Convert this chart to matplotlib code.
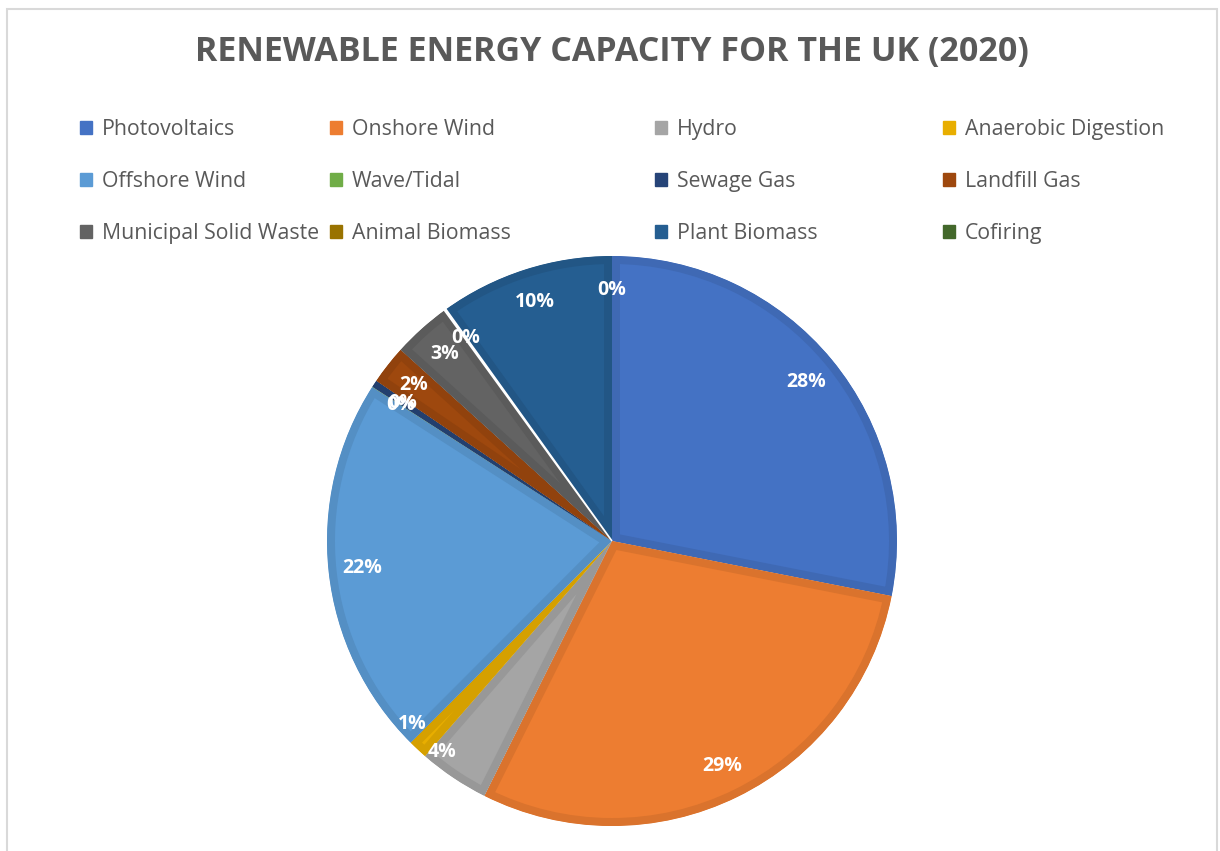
import matplotlib
matplotlib.use("Agg")
import matplotlib.pyplot as plt
from matplotlib.patches import Rectangle, Patch
import matplotlib.colors as mcolors
import numpy as np

plt.rcParams['font.family'] = ['Open Sans', 'DejaVu Sans']

# ---- data (share of UK renewable capacity, %) ----
categories = ["Photovoltaics", "Onshore Wind", "Hydro", "Anaerobic Digestion",
              "Offshore Wind", "Wave/Tidal", "Sewage Gas", "Landfill Gas",
              "Municipal Solid Waste", "Animal Biomass", "Plant Biomass", "Cofiring"]
values = [28.1, 29.3, 4.0, 1.1, 21.6, 0.02, 0.4, 2.2, 3.3, 0.1, 9.9, 0.0]
title = "RENEWABLE ENERGY CAPACITY FOR THE UK (2020)"

colors = ["#4472C4", "#ED7D31", "#A5A5A5", "#E8AE00", "#5B9BD5", "#70AD47",
          "#264478", "#9E480E", "#636363", "#997300", "#255E91", "#43682B"]

W, H = 1220, 851
fig = plt.figure(figsize=(W / 100, H / 100), dpi=100)

# frame
fig.patches.append(Rectangle((7 / W, -0.05), (1217 - 7) / W, (H - 9) / H + 0.05,
                             transform=fig.transFigure, fill=False,
                             edgecolor="#D9D9D9", linewidth=1.5))

cx, cy, R = 612, 541, 285
ax = fig.add_axes([(cx - R) / W, (H - cy - R) / H, 2 * R / W, 2 * R / H])

wedges, _ = ax.pie(values, colors=colors, startangle=90, counterclock=False,
                   radius=1.0, wedgeprops=dict(linewidth=0))

def darker(c, f=0.92):
    r, g, b = mcolors.to_rgb(c)
    return (r * f, g * f, b * f)

for w, c, name, v in zip(wedges, colors, categories, values):
    if name == "Animal Biomass":
        w.set_facecolor("white")
        w.set_edgecolor("white")
        w.set_linewidth(1.2)
        w.set_zorder(5)
    elif v <= 0:
        w.set_linewidth(0)
    else:
        w.set_edgecolor(darker(c))
        w.set_linewidth(11.5)
        w.set_clip_on(True)
        w.set_clip_path(w)

# labels
offsets = {"Hydro": (5.0, 0.95), "Anaerobic Digestion": (4.5, 0.95),
           "Landfill Gas": (0.0, 0.885)}
total = sum(values)
for w, v, name in zip(wedges, values, categories):
    mid = np.deg2rad((w.theta1 + w.theta2) / 2)
    dang, dist = offsets.get(name, (0.0, 0.88))
    mid -= np.deg2rad(dang)
    ax.text(dist * np.cos(mid), dist * np.sin(mid), f"{round(100 * v / total):.0f}%",
            ha="center", va="center", color="white", fontsize=14,
            fontweight="bold", zorder=10)

ax.set_xlim(-1, 1)
ax.set_ylim(-1, 1)
ax.set_aspect("equal")
ax.axis("off")

fig.text(611.5 / W, 1 - 52 / H, title, ha="center", va="center",
         fontsize=24.5, fontweight="bold", color="#595959")

# legend in four columns
col_x = [80, 330, 655, 943]
for ci, x in enumerate(col_x):
    idx = [ci, ci + 4, ci + 8]
    handles = [Patch(facecolor=colors[i], edgecolor=colors[i]) for i in idx]
    leg = fig.legend(handles, [categories[i] for i in idx], loc="upper left",
                     bbox_to_anchor=(x / W, 1 - 119 / H), frameon=False,
                     fontsize=15.3, handlelength=0.56, handleheight=0.56,
                     handletextpad=0.47, labelspacing=1.46, borderaxespad=0,
                     borderpad=0)
    for t in leg.get_texts():
        t.set_color("#595959")

fig.savefig("out.png", dpi=100)
